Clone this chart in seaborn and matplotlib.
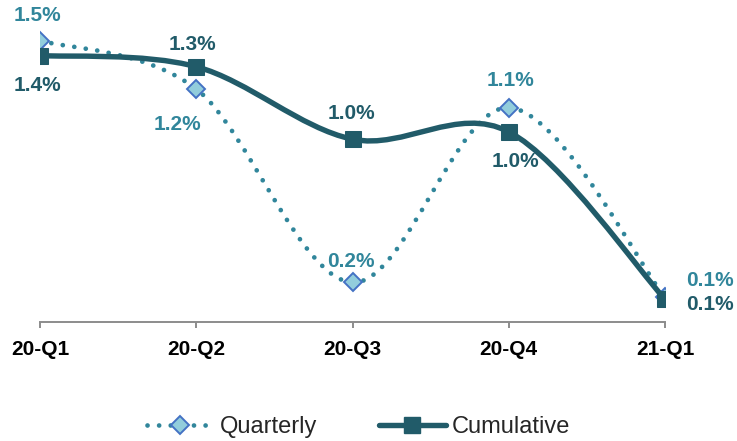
import matplotlib
matplotlib.use("Agg")
import matplotlib.pyplot as plt
import seaborn as sns
import pandas as pd
from matplotlib.path import Path
from matplotlib.patches import PathPatch
from matplotlib.lines import Line2D

categories = ["20-Q1", "20-Q2", "20-Q3", "20-Q4", "21-Q1"]
quarterly = [1.51, 1.25, 0.21, 1.15, 0.13]
cumulative = [1.43, 1.37, 0.98, 1.02, 0.12]
quarterly_labels = ["1.5%", "1.2%", "0.2%", "1.1%", "0.1%"]
cumulative_labels = ["1.4%", "1.3%", "1.0%", "1.0%", "0.1%"]

Q_COLOR = "#31869B"
C_COLOR = "#215B69"
D_FILL = "#92CDDC"
D_EDGE = "#4472C4"

sns.set_theme(style="white")
plt.rcParams["font.family"] = ["Liberation Sans", "DejaVu Sans"]

W, H = 737, 441
fig = plt.figure(figsize=(W / 100, H / 100), dpi=100)
y_axis_px = 321.5
y_top = 1.6
px_per_unit = 186.0
ax = fig.add_axes([40 / W, 1 - y_axis_px / H, (665 - 40) / W, (y_top * px_per_unit) / H])

x = list(range(len(categories)))
df = pd.DataFrame({"x": x, "q": quarterly, "c": cumulative})


def smooth_path(xs, ys):
    pts = list(zip(xs, ys))
    n = len(pts)
    verts = [pts[0]]
    codes = [Path.MOVETO]
    for i in range(n - 1):
        p0 = pts[i - 1] if i > 0 else pts[i]
        p1 = pts[i]
        p2 = pts[i + 1]
        p3 = pts[i + 2] if i + 2 < n else pts[i + 1]
        c1 = (p1[0] + (p2[0] - p0[0]) / 6, p1[1] + (p2[1] - p0[1]) / 6)
        c2 = (p2[0] - (p3[0] - p1[0]) / 6, p2[1] - (p3[1] - p1[1]) / 6)
        verts += [c1, c2, p2]
        codes += [Path.CURVE4] * 3
    return Path(verts, codes)


Q_LW = 3.4
Q_DASH = (0, (0.01, 2.45))
C_LW = 3.9

# Quarterly dotted smooth line
qpatch = PathPatch(smooth_path(x, quarterly), facecolor="none", edgecolor=Q_COLOR,
                   linewidth=Q_LW, linestyle=Q_DASH, capstyle="round", zorder=2)
ax.add_patch(qpatch)
sns.lineplot(data=df, x="x", y="q", ax=ax, linewidth=0, marker="D", markersize=9,
             markerfacecolor=D_FILL, markeredgecolor=D_EDGE, markeredgewidth=1.4,
             zorder=3, legend=False)

# Cumulative solid smooth line
cpatch = PathPatch(smooth_path(x, cumulative), facecolor="none", edgecolor=C_COLOR,
                   linewidth=C_LW, capstyle="butt", zorder=4)
ax.add_patch(cpatch)
sns.lineplot(data=df, x="x", y="c", ax=ax, linewidth=0, marker="s", markersize=12,
             markerfacecolor=C_COLOR, markeredgecolor=C_COLOR, zorder=5, legend=False)

ax.set_xlim(0, 4)
ax.set_ylim(0, y_top)

# data label offsets in pixels (dx, dy up), converted to points
q_off = [(-3, 27, "center"), (-19, -33, "center"), (-2, 23, "center"),
         (2, 29, "center"), (21, 18.5, "left")]
c_off = [(-3, -28, "center"), (-3.5, 23.7, "center"), (-1, 28, "center"),
         (7, -28, "center"), (21, -3.5, "left")]
k = 0.72
LBL_FS = 15
for i in x:
    dx, dy, ha = q_off[i]
    ax.annotate(quarterly_labels[i], (i, quarterly[i]), xytext=(dx * k, dy * k),
                textcoords="offset points", ha=ha, va="center_baseline", fontsize=LBL_FS,
                fontweight="bold", color=Q_COLOR, zorder=6, annotation_clip=False)
    dx, dy, ha = c_off[i]
    ax.annotate(cumulative_labels[i], (i, cumulative[i]), xytext=(dx * k, dy * k),
                textcoords="offset points", ha=ha, va="center_baseline", fontsize=LBL_FS,
                fontweight="bold", color=C_COLOR, zorder=6, annotation_clip=False)

ax.set_xticks(x)
ax.set_xticklabels(categories, fontsize=15, fontweight="bold", color="black")
ax.set_yticks([])
ax.set_xlabel("")
ax.set_ylabel("")
for s in ["top", "right", "left"]:
    ax.spines[s].set_visible(False)
ax.spines["bottom"].set_color("#8C8C8C")
ax.spines["bottom"].set_linewidth(1.4)
ax.tick_params(axis="x", direction="out", length=4.5, width=1.4, color="#8C8C8C", pad=9, bottom=True)

handles = [
    Line2D([0], [0], color=Q_COLOR, linewidth=Q_LW, linestyle=Q_DASH,
           dash_capstyle="round", marker="D", markersize=9, markerfacecolor=D_FILL,
           markeredgecolor=D_EDGE, markeredgewidth=1.4),
    Line2D([0], [0], color=C_COLOR, linewidth=C_LW, marker="s", markersize=12,
           markerfacecolor=C_COLOR, markeredgecolor=C_COLOR),
]
fig.legend(handles, ["Quarterly", "Cumulative"], loc="center",
           bbox_to_anchor=(358.5 / W, 1 - 427 / H),
           ncol=2, frameon=False, fontsize=17, handlelength=2.85, columnspacing=2.6,
           handletextpad=0.25)

fig.savefig("out.png", dpi=100)
